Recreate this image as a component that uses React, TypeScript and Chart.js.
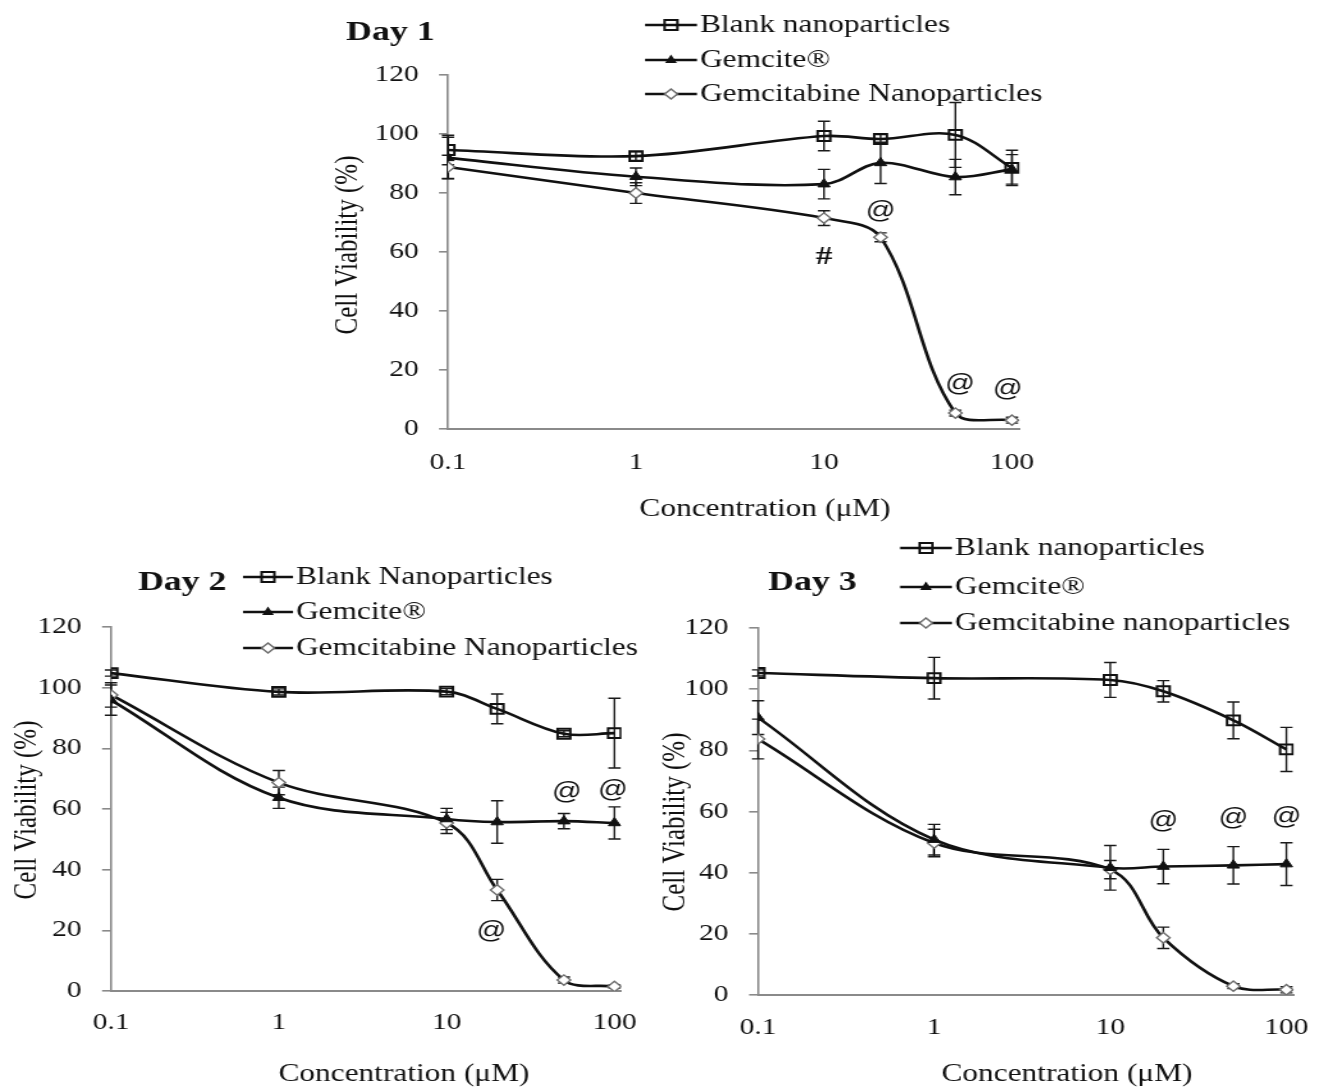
import React, { useEffect, useRef } from "react";
import { Chart, registerables } from "chart.js";

Chart.register(...registerables);

// ---------- data ----------
const concentrations = [0.1, 1, 10, 20, 50, 100];
const xTickValues = [0.1, 1, 10, 100];
const yMin = 0;
const yMax = 120;
const yStep = 20;

const day1Labels = ["Blank nanoparticles", "Gemcite®", "Gemcitabine Nanoparticles"];
const day1Blank = [94.6, 92.5, 99.3, 98.3, 99.7, 88.5];
const day1BlankErr = [5, 1.5, 5, 1.5, 11, 6];
const day1Gemcite = [91.9, 85.5, 83, 90.2, 85.4, 88];
const day1GemciteErr = [7, 3, 5, 7, 6, 5];
const day1GemNP = [88.8, 80, 71.5, 65, 5.4, 3];
const day1GemNPErr = [4, 3.5, 2.5, 1.5, 1, 1];
const day1Notes = [
  { x: 10, y: 58.3, text: "#" },
  { x: 20, y: 73.6, text: "@" },
  { x: 53, y: 14.9, text: "@" },
  { x: 95, y: 13.2, text: "@" },
];

const day2Labels = ["Blank Nanoparticles", "Gemcite®", "Gemcitabine Nanoparticles"];
const day2Blank = [104.8, 98.6, 98.7, 93, 84.8, 85];
const day2BlankErr = [1, 1, 1, 4.9, 1, 11.5];
const day2Gemcite = [95.9, 63.7, 56.7, 55.7, 56, 55.4];
const day2GemciteErr = [5, 3.5, 3.5, 7, 2.5, 5.3];
const day2GemNP = [97.6, 68.7, 55.4, 33.3, 3.6, 1.5];
const day2GemNPErr = [4, 4, 3.5, 3.5, 1, 0.5];
const day2Notes = [
  { x: 18.5, y: 19.5, text: "@" },
  { x: 52, y: 65.3, text: "@" },
  { x: 98, y: 66, text: "@" },
];

const day3Labels = ["Blank nanoparticles", "Gemcite®", "Gemcitabine nanoparticles"];
const day3Blank = [105.3, 103.6, 103, 99.3, 89.8, 80.3];
const day3BlankErr = [1, 6.8, 5.7, 3.5, 6, 7.2];
const day3Gemcite = [90.7, 50.8, 41.6, 42, 42.4, 42.8];
const day3GemciteErr = [5.5, 5, 7.3, 5.6, 6.1, 7];
const day3GemNP = [83.7, 49.7, 41, 18.7, 2.9, 1.7];
const day3GemNPErr = [6.5, 4.5, 3, 3.5, 0.8, 1];
const day3Notes = [
  { x: 20, y: 56.6, text: "@" },
  { x: 50, y: 57.7, text: "@" },
  { x: 100, y: 58, text: "@" },
];

const xAxisTitle = "Concentration (\u03BCM)";
const yAxisTitle = "Cell Viability (%)";

// ---------- styles ----------
const AXIS = "#8a8a8a";
const INK = "#111111";
const DIAMOND = "#6e6e6e";
const SERIF = "'Liberation Serif'";
// the original figure is widened horizontally; the canvas is drawn narrow and shown wider
const STRETCH = 1.28;

type Note = { x: number; y: number; text: string };
type PanelCfg = {
  title: string;
  labels: string[];
  values: number[][];
  errors: number[][];
  notes: Note[];
  box: { left: number; top: number; width: number; height: number }; // page px
  area: { left: number; top: number; right: number; bottom: number }; // page px
  xTickPad: number;
  titlePos: { x: number; y: number }; // page px
  legend: { x1: number; x2: number; tx: number; rows: number[] }; // page px
  xTitlePos: { x: number; y: number };
  yTitlePos: { x: number; y: number };
};

const panels: PanelCfg[] = [
  {
    title: "Day 1",
    labels: day1Labels,
    values: [day1Blank, day1Gemcite, day1GemNP],
    errors: [day1BlankErr, day1GemciteErr, day1GemNPErr],
    notes: day1Notes,
    box: { left: 330, top: 0, width: 730, height: 540 },
    area: { left: 448, top: 75, right: 1035, bottom: 429 },
    xTickPad: 20,
    titlePos: { x: 346, y: 33 },
    legend: { x1: 645, x2: 697, tx: 700, rows: [25, 60, 94] },
    xTitlePos: { x: 765, y: 510 },
    yTitlePos: { x: 348, y: 245 },
  },
  {
    title: "Day 2",
    labels: day2Labels,
    values: [day2Blank, day2Gemcite, day2GemNP],
    errors: [day2BlankErr, day2GemciteErr, day2GemNPErr],
    notes: day2Notes,
    box: { left: 0, top: 545, width: 660, height: 542 },
    area: { left: 111, top: 627, right: 625, bottom: 991 },
    xTickPad: 18,
    titlePos: { x: 138, y: 583 },
    legend: { x1: 243, x2: 293, tx: 296, rows: [577, 612, 648] },
    xTitlePos: { x: 404, y: 1075 },
    yTitlePos: { x: 28, y: 810 },
  },
  {
    title: "Day 3",
    labels: day3Labels,
    values: [day3Blank, day3Gemcite, day3GemNP],
    errors: [day3BlankErr, day3GemciteErr, day3GemNPErr],
    notes: day3Notes,
    box: { left: 660, top: 525, width: 673, height: 562 },
    area: { left: 758, top: 628, right: 1318, bottom: 995 },
    xTickPad: 19,
    titlePos: { x: 768, y: 583 },
    legend: { x1: 900, x2: 952, tx: 955, rows: [548, 587, 623] },
    xTitlePos: { x: 1067, y: 1075 },
    yTitlePos: { x: 676, y: 822 },
  },
];

const X_AXIS_HEIGHT = 60;

function canvasWidth(p: PanelCfg) {
  return Math.round(p.box.width / STRETCH);
}

function drawMarker(ctx: CanvasRenderingContext2D, kind: number, x: number, y: number) {
  ctx.save();
  if (kind === 0) {
    ctx.strokeStyle = INK;
    ctx.lineWidth = 2;
    ctx.strokeRect(x - 5, y - 5, 10, 10);
  } else if (kind === 1) {
    ctx.fillStyle = INK;
    ctx.beginPath();
    ctx.moveTo(x, y - 5.5);
    ctx.lineTo(x + 4.6, y + 3);
    ctx.lineTo(x - 4.6, y + 3);
    ctx.closePath();
    ctx.fill();
  } else {
    ctx.fillStyle = "#ffffff";
    ctx.strokeStyle = DIAMOND;
    ctx.lineWidth = 1.5;
    ctx.beginPath();
    ctx.moveTo(x, y - 5);
    ctx.lineTo(x + 5, y);
    ctx.lineTo(x, y + 5);
    ctx.lineTo(x - 5, y);
    ctx.closePath();
    ctx.fill();
    ctx.stroke();
  }
  ctx.restore();
}

function makeDecor(panel: PanelCfg, sx: number) {
  const cx = (px: number) => (px - panel.box.left) / sx;
  const cy = (py: number) => py - panel.box.top;
  return {
    id: "decor",
    beforeDatasetsDraw(chart: any) {
      const ctx: CanvasRenderingContext2D = chart.ctx;
      const ys = chart.scales.y;
      ctx.save();
      ctx.strokeStyle = "#1a1a1a";
      ctx.lineWidth = 1.4;
      panel.values.forEach((vals, di) => {
        const meta = chart.getDatasetMeta(di);
        vals.forEach((v, j) => {
          const e = panel.errors[di][j];
          const px = meta.data[j].x;
          const top = ys.getPixelForValue(v + e);
          const bot = ys.getPixelForValue(v - e);
          ctx.beginPath();
          ctx.moveTo(px, top);
          ctx.lineTo(px, bot);
          ctx.moveTo(px - 4.8, top);
          ctx.lineTo(px + 4.8, top);
          ctx.moveTo(px - 4.8, bot);
          ctx.lineTo(px + 4.8, bot);
          ctx.stroke();
        });
      });
      ctx.restore();
    },
    afterDraw(chart: any) {
      const ctx: CanvasRenderingContext2D = chart.ctx;
      const xs = chart.scales.x;
      const ys = chart.scales.y;
      ctx.save();
      ctx.fillStyle = INK;
      ctx.textBaseline = "middle";
      ctx.textAlign = "left";
      // panel title
      ctx.font = `bold 28px ${SERIF}`;
      ctx.fillText(panel.title, cx(panel.titlePos.x), cy(panel.titlePos.y));
      // legend
      ctx.font = `24.5px ${SERIF}`;
      panel.labels.forEach((label, i) => {
        const y = cy(panel.legend.rows[i]);
        ctx.strokeStyle = INK;
        ctx.lineWidth = 2.5;
        ctx.beginPath();
        ctx.moveTo(cx(panel.legend.x1), y);
        ctx.lineTo(cx(panel.legend.x2), y);
        ctx.stroke();
        drawMarker(ctx, i, cx((panel.legend.x1 + panel.legend.x2) / 2), y);
        ctx.fillStyle = INK;
        ctx.fillText(label, cx(panel.legend.tx), y + 1);
      });
      // x axis title
      ctx.textAlign = "center";
      ctx.font = `24.5px ${SERIF}`;
      ctx.fillText(xAxisTitle, cx(panel.xTitlePos.x), cy(panel.xTitlePos.y));
      // y axis title
      ctx.save();
      ctx.translate(cx(panel.yTitlePos.x), cy(panel.yTitlePos.y));
      ctx.rotate(-Math.PI / 2);
      ctx.font = `25px ${SERIF}`;
      ctx.fillText(yAxisTitle, 0, 0);
      ctx.restore();
      // significance notes
      panel.notes.forEach((n) => {
        ctx.font = n.text === "#" ? `bold 26px ${SERIF}` : "23px 'Liberation Sans'";
        ctx.fillText(n.text, xs.getPixelForValue(n.x), ys.getPixelForValue(n.y));
      });
      ctx.restore();
    },
  };
}

function buildConfig(panel: PanelCfg): any {
  const cw = canvasWidth(panel);
  const sx = panel.box.width / cw;
  const markerStyles = [
    { pointStyle: "rect", pointRadius: 7, pointBorderColor: INK, pointBackgroundColor: "rgba(0,0,0,0)", pointBorderWidth: 2 },
    { pointStyle: "triangle", pointRadius: 5.5, pointBorderColor: INK, pointBackgroundColor: INK, pointBorderWidth: 1 },
    { pointStyle: "rectRot", pointRadius: 5.2, pointBorderColor: DIAMOND, pointBackgroundColor: "#ffffff", pointBorderWidth: 1.4 },
  ];
  const datasets = panel.values.map((vals, i) => ({
    label: panel.labels[i],
    data: concentrations.map((c, j) => ({ x: c, y: vals[j] })),
    borderColor: INK,
    borderWidth: 2.6,
    backgroundColor: "rgba(0,0,0,0)",
    fill: false,
    tension: 0.35,
    ...markerStyles[i],
  }));
  const { box, area } = panel;
  const yAxisWidth = (area.left - box.left) / sx;
  const rightPad = (box.left + box.width - area.right) / sx;
  return {
    type: "line",
    data: { datasets },
    options: {
      responsive: false,
      maintainAspectRatio: false,
      animation: false,
      devicePixelRatio: 1,
      events: [],
      layout: {
        padding: {
          left: 0,
          top: area.top - box.top,
          right: rightPad,
          bottom: box.top + box.height - area.bottom - X_AXIS_HEIGHT,
        },
      },
      plugins: {
        legend: { display: false },
        tooltip: { enabled: false },
        title: { display: false },
      },
      scales: {
        x: {
          type: "logarithmic",
          min: 0.1,
          max: 110,
          afterBuildTicks: (s: any) => {
            s.ticks = xTickValues.map((v) => ({ value: v }));
          },
          afterFit: (s: any) => {
            s.height = X_AXIS_HEIGHT;
          },
          grid: { display: false, drawTicks: false },
          border: { display: true, color: AXIS, width: 2 },
          ticks: {
            autoSkip: false,
            maxRotation: 0,
            padding: panel.xTickPad,
            color: INK,
            font: { family: "Liberation Serif", size: 23 },
            callback: (v: any) => String(v),
          },
        },
        y: {
          min: yMin,
          max: yMax,
          afterFit: (s: any) => {
            s.width = yAxisWidth;
          },
          grid: { display: true, drawOnChartArea: false, drawTicks: true, tickLength: 7, color: AXIS, lineWidth: 1.6 },
          border: { display: true, color: AXIS, width: 1.6 },
          ticks: {
            stepSize: yStep,
            padding: 16,
            color: INK,
            font: { family: "Liberation Serif", size: 23 },
          },
        },
      },
    },
    plugins: [makeDecor(panel, sx)],
  };
}

function PanelChart({ panel }: { panel: PanelCfg }) {
  const ref = useRef<HTMLCanvasElement | null>(null);
  useEffect(() => {
    if (!ref.current) return;
    const chart = new Chart(ref.current, buildConfig(panel));
    return () => chart.destroy();
  }, [panel]);
  return (
    <canvas
      ref={ref}
      width={canvasWidth(panel)}
      height={panel.box.height}
      style={{
        position: "absolute",
        left: panel.box.left,
        top: panel.box.top,
        width: panel.box.width,
        height: panel.box.height,
      }}
    />
  );
}

export default function App() {
  return (
    <div
      style={{
        position: "absolute",
        left: 0,
        top: 0,
        width: 1333,
        height: 1087,
        background: "#ffffff",
        overflow: "hidden",
      }}
    >
      {panels.map((p) => (
        <PanelChart key={p.title} panel={p} />
      ))}
    </div>
  );
}
